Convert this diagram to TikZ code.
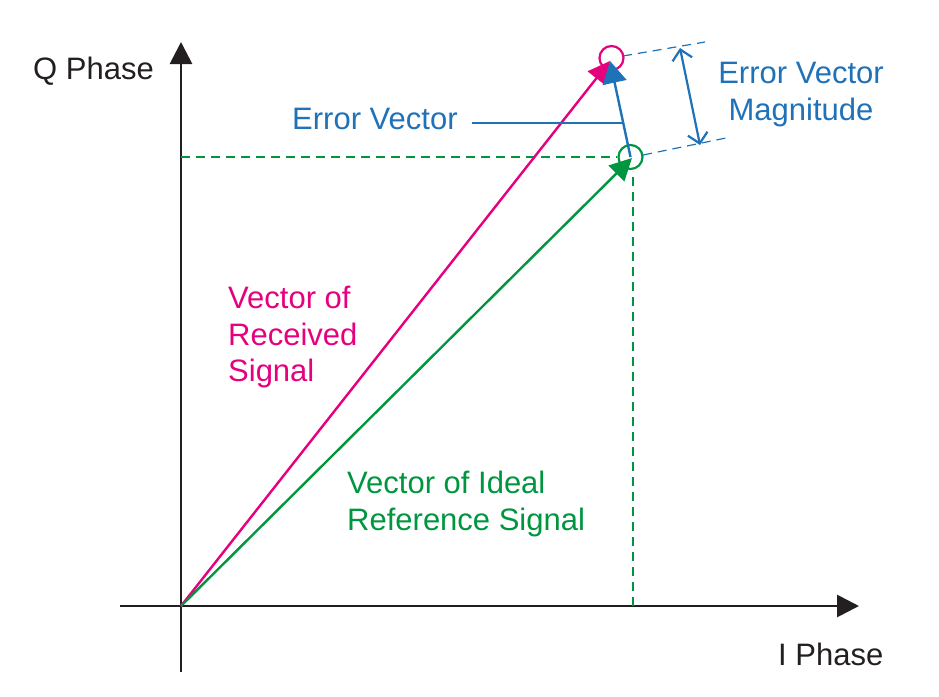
\documentclass[tikz,border=0pt]{standalone}
\usepackage{fontspec}
\setmainfont{Liberation Sans}
\usetikzlibrary{arrows.meta}
\definecolor{axisk}{HTML}{231F20}
\definecolor{mag}{HTML}{E6007E}
\definecolor{grn}{HTML}{009640}
\definecolor{blu}{HTML}{1F72B8}
\tikzset{
  lbl/.style={inner sep=0pt, font=\fontsize{31}{36.5}\selectfont},
  axis/.style={draw=axisk, line width=2.8pt, -{Triangle[length=22pt,width=22pt]}},
  vec/.style={line width=2.4pt, -{Triangle[length=22pt,width=22pt]}},
  ring/.style={circle, draw, line width=2.2pt, minimum size=24pt, inner sep=0pt},
  guide/.style={line width=1.2pt, dash pattern=on 9pt off 6pt},
}
\begin{document}
\begin{tikzpicture}[x=1pt,y=-1pt]
\useasboundingbox (0,0) rectangle (939,696);
% points
\coordinate (O) at (181,606);
\coordinate (ybot) at (181,672);
\coordinate (ytop) at (181,42);
\coordinate (xl) at (120,606);
\coordinate (xr) at (859,606);
\node[ring, draw=mag] (M) at (611.5,58) {};
\node[ring, draw=grn] (G) at (630.5,157) {};
\coordinate (Mt) at (610,61);
\coordinate (Gt) at (632,158);
\coordinate (Ht) at (181,157);
\coordinate (Vb) at (633,606);
\coordinate (Vt) at (633,171);
\coordinate (dt1) at (623,56);
\coordinate (dt2) at (705,42);
\coordinate (db1) at (643,155);
\coordinate (db2) at (726,138);
\coordinate (ea) at (680,48);
\coordinate (eb) at (700,145);
\coordinate (l1) at (472,123);
\coordinate (l2) at (622,123);
% axes
\draw[axis] (ybot) -- (ytop);
\draw[axis] (xl) -- (xr);
% guides
\draw[guide, draw=grn] (Ht) -- (G.west);
\draw[guide, draw=grn] (Vb) -- (Vt);
\draw[guide, draw=blu] (dt1) -- (dt2);
\draw[guide, draw=blu] (db1) -- (db2);
% vectors
\draw[vec, draw=mag, fill=mag] (O) -- (Mt);
\draw[vec, draw=grn, fill=grn] (O) -- (Gt);
\draw[vec, draw=blu, fill=blu, line width=2.4pt, -{Triangle[length=22pt,width=24pt]}] (G.center) -- (Mt);
\draw[blu, line width=2.2pt, {Straight Barb[length=10pt,width=20pt]}-{Straight Barb[length=10pt,width=20pt]}] (ea) -- (eb);
\draw[blu, line width=1.2pt] (l1) -- (l2);
% labels
\node[lbl, anchor=base west, text=axisk] (qp) at (33,79) {Q Phase};
\node[lbl, anchor=base west, text=axisk] (ip) at (778,665) {I Phase};
\node[lbl, anchor=base west, text=blu] (ev) at (292,129) {Error Vector};
\node[lbl, anchor=north, text=blu, align=center] (evm) at (801,62) {Error Vector\\Magnitude};
\node[lbl, anchor=north west, text=mag, align=left] (rx) at (228,286) {Vector of\\Received\\Signal};
\node[lbl, anchor=north west, text=grn, align=left] (id) at (347,471) {Vector of Ideal\\Reference Signal};
\end{tikzpicture}
\end{document}
